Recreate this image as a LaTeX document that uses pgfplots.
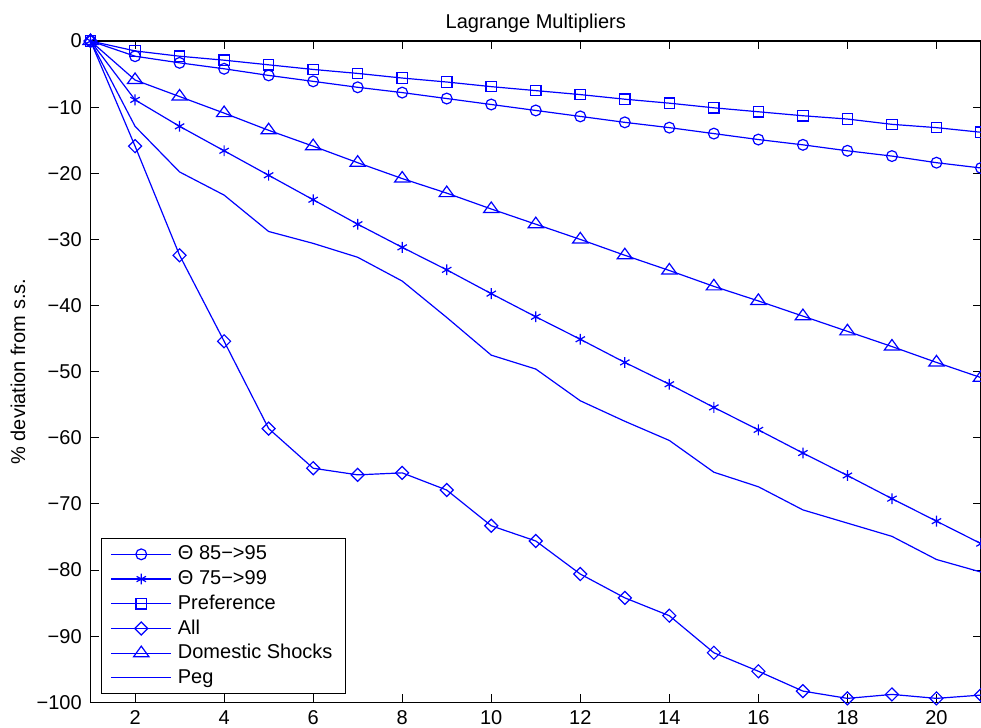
\documentclass[border=0pt]{standalone}
\usepackage{fontspec}
\setmainfont{Liberation Sans}
\usepackage{pgfplots}
\pgfplotsset{compat=1.18}
\definecolor{mblue}{rgb}{0,0,1}
\tikzset{ser/.style={color=mblue, line width=0.6pt, mark options={solid, line width=0.6pt}}}
\begin{document}
\begin{tikzpicture}
\begin{axis}[
  scale only axis, width=445pt, height=330.5pt,
  xmin=1, xmax=21, ymin=-100, ymax=0,
  xtick={2,4,...,20},
  ytick={-100,-90,...,0},
  yticklabels={−100,−90,−80,−70,−60,−50,−40,−30,−20,−10,0},
  tick align=inside, major tick length=4pt,
  tick style={black, line width=0.5pt},
  axis line style={black, line width=0.7pt},
  font=\fontsize{10}{12}\selectfont,
  /pgf/number format/assume math mode=true,
  xticklabel style={anchor=base, yshift=-11pt},
  yticklabel style={xshift=-0.9pt},
  title={Lagrange Multipliers},
  title style={at={(axis description cs:0.5,1)}, anchor=base, yshift=0.5pt},
  ylabel={\% deviation from s.s.},
  ylabel style={at={(axis description cs:-0.0815,0.5)}, anchor=center},
  clip=false,
  legend image code/.code={\draw[mark repeat=2,mark phase=2,#1] plot coordinates {(0pt,0pt) (15pt,0pt) (30pt,0pt)};},
  legend cell align=left,
  legend style={at={(axis description cs:0.01124,0.0121)}, anchor=south west,
    draw=black, line width=0.5pt, inner xsep=4.8pt, inner ysep=1.8pt,
    font=\fontsize{10}{12}\selectfont,
    nodes={inner ysep=0pt, inner xsep=1.5pt, minimum height=12.35pt},
    /tikz/every odd column/.append style={column sep=1.5pt}},
]
\addplot[ser, mark=o, mark size=2.7pt] coordinates {(1,0) (2,-2.3) (3,-3.3) (4,-4.2) (5,-5.2) (6,-6.1) (7,-7.0) (8,-7.8) (9,-8.7) (10,-9.6) (11,-10.5) (12,-11.4) (13,-12.3) (14,-13.1) (15,-14.0) (16,-14.9) (17,-15.7) (18,-16.6) (19,-17.4) (20,-18.4) (21,-19.2)};
\addlegendentry{Θ 85−>95}
\addplot[ser, mark=asterisk, mark size=2.7pt] coordinates {(1,0) (2,-8.9) (3,-12.9) (4,-16.6) (5,-20.3) (6,-24.0) (7,-27.7) (8,-31.2) (9,-34.6) (10,-38.2) (11,-41.7) (12,-45.1) (13,-48.6) (14,-51.9) (15,-55.4) (16,-58.8) (17,-62.3) (18,-65.7) (19,-69.2) (20,-72.6) (21,-76.0)};
\addlegendentry{Θ 75−>99}
\addplot[ser, mark=square, mark size=2.6pt] coordinates {(1,0) (2,-1.5) (3,-2.3) (4,-2.9) (5,-3.6) (6,-4.3) (7,-4.9) (8,-5.6) (9,-6.2) (10,-6.9) (11,-7.5) (12,-8.1) (13,-8.8) (14,-9.4) (15,-10.1) (16,-10.7) (17,-11.3) (18,-11.8) (19,-12.6) (20,-13.1) (21,-13.8)};
\addlegendentry{Preference}
\addplot[ser, mark=square, mark size=2.3pt, mark options={rotate=45}] coordinates {(1,0) (2,-15.9) (3,-32.4) (4,-45.4) (5,-58.6) (6,-64.6) (7,-65.6) (8,-65.3) (9,-67.9) (10,-73.3) (11,-75.6) (12,-80.6) (13,-84.2) (14,-86.9) (15,-92.5) (16,-95.3) (17,-98.3) (18,-99.4) (19,-98.8) (20,-99.4) (21,-98.9)};
\addlegendentry{All}
\addplot[ser, mark=triangle, mark size=4.4pt, mark options={yscale=0.8}] coordinates {(1,0) (2,-5.9) (3,-8.4) (4,-10.9) (5,-13.5) (6,-15.9) (7,-18.4) (8,-20.8) (9,-23.0) (10,-25.4) (11,-27.7) (12,-30.0) (13,-32.4) (14,-34.7) (15,-37.1) (16,-39.3) (17,-41.6) (18,-43.9) (19,-46.2) (20,-48.6) (21,-50.9)};
\addlegendentry{Domestic Shocks}
\addplot[ser, no marks] coordinates {(1,0) (2,-12.9) (3,-19.8) (4,-23.3) (5,-28.8) (6,-30.6) (7,-32.7) (8,-36.3) (9,-41.8) (10,-47.5) (11,-49.6) (12,-54.4) (13,-57.5) (14,-60.4) (15,-65.2) (16,-67.4) (17,-70.9) (18,-72.9) (19,-74.9) (20,-78.4) (21,-80.3)};
\addlegendentry{Peg}
\end{axis}
\pgfresetboundingbox
\useasboundingbox ([xshift=-45.25pt,yshift=-12.5pt]current axis.south west) rectangle ([yshift=20.5pt]current axis.north east);
\end{tikzpicture}
\end{document}
